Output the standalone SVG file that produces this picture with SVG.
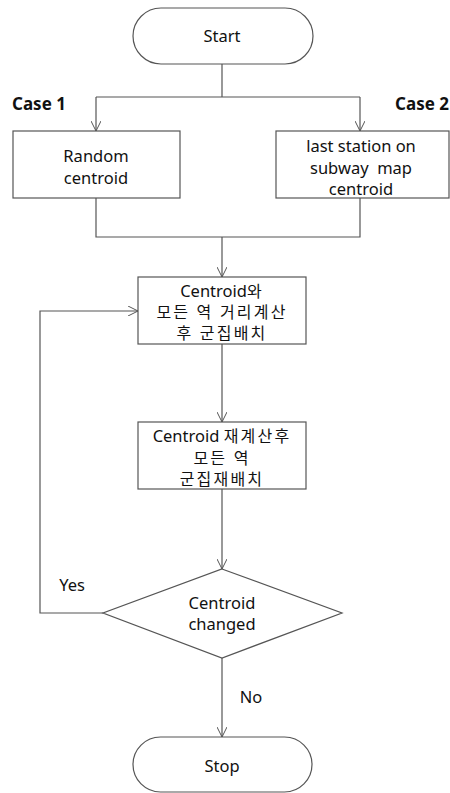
<svg xmlns="http://www.w3.org/2000/svg" width="450" height="793" viewBox="0 0 450 793">
<defs>
<marker id="arr" viewBox="0 0 10 10" refX="10" refY="5" markerWidth="10" markerHeight="10" markerUnits="userSpaceOnUse" orient="auto">
<path d="M0,0 L10,5 L0,10" fill="none" stroke="#555" stroke-width="1"/>
</marker>
<style>
.s{fill:#fff;stroke:#555;stroke-width:1.2}
.c{fill:none;stroke:#555;stroke-width:1.2}
text{font-family:"Noto Sans","Noto Sans CJK KR",sans-serif;font-size:16.5px;fill:#111;text-anchor:middle}
.b{font-weight:bold;font-size:17px}
.k{letter-spacing:2.2px;font-size:16px}
</style>
</defs>
<rect width="450" height="793" fill="#fff"/>
<g id="connectors">
<path class="c" d="M222,64 V97 M96,97 H360"/>
<path class="c" d="M96,97 V131" marker-end="url(#arr)"/>
<path class="c" d="M360,97 V131" marker-end="url(#arr)"/>
<path class="c" d="M96,198 V237 H360 V198"/>
<path class="c" d="M222,237 V277" marker-end="url(#arr)"/>
<path class="c" d="M222,344 V422" marker-end="url(#arr)"/>
<path class="c" d="M222,489 V569" marker-end="url(#arr)"/>
<path class="c" d="M103,613 H40 V311 H138" marker-end="url(#arr)"/>
<path class="c" d="M222,658 V737" marker-end="url(#arr)"/>
<text x="72" y="591">Yes</text>
<text x="251" y="703">No</text>
</g>
<g id="start">
<rect class="s" x="133" y="8" width="180" height="56" rx="28"/>
<text x="222" y="42">Start</text>
</g>
<g id="case1">
<text class="b" x="12" y="110" style="text-anchor:start">Case 1</text>
<rect class="s" x="13" y="131" width="167" height="67"/>
<text x="96" y="162">Random</text>
<text x="96" y="184">centroid</text>
</g>
<g id="case2">
<text class="b" x="449" y="110" style="text-anchor:end">Case 2</text>
<rect class="s" x="276" y="131" width="173" height="67"/>
<text x="361" y="152">last station on</text>
<text x="361" y="174" xml:space="preserve">subway  map</text>
<text x="361" y="195">centroid</text>
</g>
<g id="assign">
<rect class="s" x="138" y="277" width="168" height="67"/>
<text x="222" y="297">Centroid<tspan class="k">와</tspan></text>
<text class="k" x="222" y="318">모든 역 거리계산</text>
<text class="k" x="222" y="339">후 군집배치</text>
</g>
<g id="recompute">
<rect class="s" x="138" y="422" width="168" height="67"/>
<text x="222" y="442">Centroid <tspan class="k">재계산후</tspan></text>
<text class="k" x="222" y="464">모든 역</text>
<text class="k" x="222" y="485">군집재배치</text>
</g>
<g id="decision">
<polygon class="s" points="222,569 342,613 222,658 103,613"/>
<text x="222" y="609">Centroid</text>
<text x="222" y="630">changed</text>
</g>
<g id="stop">
<rect class="s" x="133" y="737" width="179" height="55" rx="27.5"/>
<text x="222" y="772">Stop</text>
</g>
</svg>
